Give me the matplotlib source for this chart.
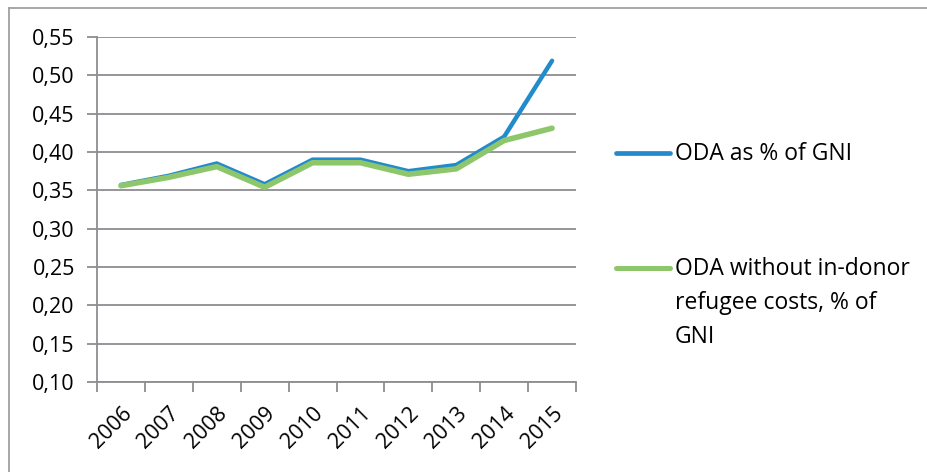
import matplotlib.pyplot as plt
import numpy as np
from matplotlib.lines import Line2D
from matplotlib.ticker import FixedLocator, FuncFormatter

years = ["2006", "2007", "2008", "2009", "2010", "2011", "2012", "2013", "2014", "2015"]
oda_gni = [0.357, 0.369, 0.385, 0.358, 0.390, 0.390, 0.375, 0.383, 0.420, 0.519]
oda_no_refugee = [0.356, 0.367, 0.381, 0.354, 0.386, 0.386, 0.371, 0.378, 0.415, 0.431]

BLUE = "#218bcb"
GREEN = "#8ec66c"
GRID = "#8e8e92"
FONT = ["Open Sans", "DejaVu Sans"]

plt.rcParams["font.family"] = FONT

W, H = 928, 472
fig = plt.figure(figsize=(W / 100, H / 100), dpi=100)
# plot area in pixels: x 97..576, y 37..382
ax = fig.add_axes([97 / W, 1 - 382 / H, (576 - 97) / W, (382 - 37) / H])

x = np.arange(len(years))
ax.plot(x, oda_gni, color=BLUE, lw=3.2, solid_capstyle="round", solid_joinstyle="round", zorder=3)
ax.plot(x, oda_no_refugee, color=GREEN, lw=4.0, solid_capstyle="round", solid_joinstyle="round", zorder=4)

ax.set_xlim(-0.5, len(years) - 0.5)
ax.set_ylim(0.10, 0.55)
ax.set_yticks(np.arange(0.10, 0.551, 0.05))
ax.yaxis.set_major_formatter(FuncFormatter(lambda v, _: f"{v:.2f}".replace(".", ",")))
ax.grid(axis="y", color=GRID, lw=1.3)
ax.set_axisbelow(True)

# category boundary ticks on x
ax.xaxis.set_major_locator(FixedLocator(np.arange(-0.5, len(years), 1.0)))
ax.xaxis.set_major_formatter(FuncFormatter(lambda v, _: ""))
ax.xaxis.set_minor_locator(FixedLocator(x))
ax.set_xticklabels(years, minor=True, rotation=45, ha="right", va="top", rotation_mode="anchor")
ax.tick_params(axis="x", which="major", length=7, width=1.3, color=GRID)
ax.tick_params(axis="x", which="minor", length=0, pad=15, labelsize=15.5)
ax.tick_params(axis="y", length=7, width=1.3, color=GRID, labelsize=15.5, pad=9)

for side in ("top", "right"):
    ax.spines[side].set_visible(False)
for side in ("left", "bottom"):
    ax.spines[side].set_color(GRID)
    ax.spines[side].set_linewidth(1.3)


# legend drawn by hand to match the Excel layout
def legend_entry(ypx, color, lw, text):
    y = 1 - ypx / H
    fig.add_artist(Line2D([616 / W, 670 / W], [y, y], color=color, lw=lw,
                          solid_capstyle="round", transform=fig.transFigure))
    fig.text(675 / W, y + 11 / H, text, fontsize=16.5, va="top", ha="left",
             linespacing=1.55, transform=fig.transFigure)


legend_entry(153, BLUE, 3.4, "ODA as % of GNI")
legend_entry(268, GREEN, 3.6, "ODA without in-donor\nrefugee costs, % of\nGNI")

# outer chart border (left and top edges visible)
fig.add_artist(Line2D([9 / W, 9 / W], [0, 1 - 8 / H], color="#a0a0a0", lw=1.3, transform=fig.transFigure))
fig.add_artist(Line2D([9 / W, 1], [1 - 8 / H, 1 - 8 / H], color="#a0a0a0", lw=1.3, transform=fig.transFigure))

fig.savefig("out.png", dpi=100)
